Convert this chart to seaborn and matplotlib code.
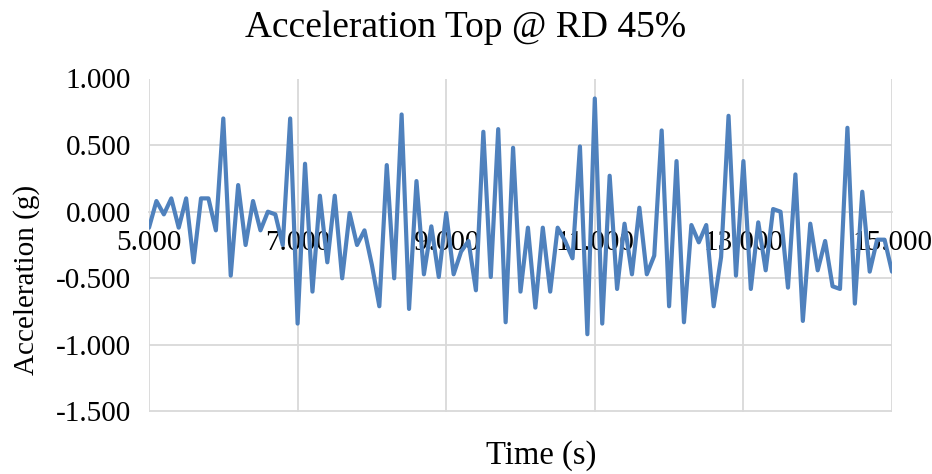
import numpy as np
import pandas as pd
import matplotlib
matplotlib.use("Agg")
import matplotlib.pyplot as plt
from matplotlib.ticker import FuncFormatter, FixedLocator
import seaborn as sns

# ---- data ----
t_start = 5.0
t_step = 0.1
accel = [
    -0.12, 0.08, -0.02, 0.10, -0.12, 0.10, -0.38, 0.10, 0.10, -0.14,
    0.70, -0.48, 0.20, -0.25, 0.08, -0.14, 0.00, -0.02, -0.25, 0.70,
    -0.84, 0.36, -0.60, 0.12, -0.38, 0.12, -0.50, -0.01, -0.25, -0.14,
    -0.40, -0.71, 0.35, -0.50, 0.73, -0.73, 0.23, -0.47, -0.11, -0.49,
    -0.01, -0.47, -0.30, -0.22, -0.59, 0.60, -0.49, 0.62, -0.83, 0.48,
    -0.60, -0.12, -0.72, -0.12, -0.60, -0.12, -0.22, -0.35, 0.49, -0.92,
    0.85, -0.84, 0.27, -0.58, -0.09, -0.47, 0.03, -0.47, -0.33, 0.61,
    -0.71, 0.38, -0.83, -0.10, -0.23, -0.10, -0.71, -0.34, 0.72, -0.48,
    0.38, -0.58, -0.08, -0.44, 0.02, 0.00, -0.57, 0.28, -0.82, -0.09,
    -0.44, -0.22, -0.56, -0.58, 0.63, -0.69, 0.15, -0.45, -0.21, -0.21,
    -0.45,
]
time = [round(t_start + t_step * i, 1) for i in range(len(accel))]
x_ticks = [5, 7, 9, 11, 13, 15]
y_ticks = [-1.5, -1.0, -0.5, 0.0, 0.5, 1.0]

title = "Acceleration Top @ RD 45%"
x_label = "Time (s)"
y_label = "Acceleration (g)"

df = pd.DataFrame({"time": time, "accel": accel})

# ---- style ----
sns.set_style("white")
plt.rcParams["font.family"] = ["Liberation Serif", "DejaVu Serif"]
plt.rcParams["axes.unicode_minus"] = False
plt.rcParams["text.color"] = "black"

fig = plt.figure(figsize=(9.32, 4.74), dpi=100)
ax = fig.add_axes([149 / 932, 1 - 411.5 / 474, (892 - 149) / 932, (411.5 - 78.5) / 474])

sns.lineplot(data=df, x="time", y="accel", ax=ax, color="#4F81BD",
             linewidth=3.0, zorder=3)

ax.set_xlim(5, 15)
ax.set_ylim(-1.5, 1.0)
ax.xaxis.set_major_locator(FixedLocator(x_ticks))
ax.yaxis.set_major_locator(FixedLocator(y_ticks))
fmt = FuncFormatter(lambda v, p: f"{v:.3f}")
ax.xaxis.set_major_formatter(fmt)
ax.yaxis.set_major_formatter(fmt)

ax.grid(True, color="#D9D9D9", linewidth=1.3, zorder=0)
ax.set_axisbelow(True)
for s in ["top", "right", "left"]:
    ax.spines[s].set_visible(False)
ax.spines["bottom"].set_position(("data", 0))
ax.spines["bottom"].set_color("#D9D9D9")
ax.spines["bottom"].set_linewidth(1.3)

ax.tick_params(axis="both", length=0, labelsize=21, colors="black")
ax.tick_params(axis="y", pad=13)
ax.tick_params(axis="x", pad=13)
for lbl in ax.get_xticklabels() + ax.get_yticklabels():
    lbl.set_clip_on(False)
ax.set_xlabel("")
ax.set_ylabel("")

fig.text(0.5, 1 - 28 / 474, title, ha="center", va="center", fontsize=27,
         color="black")
fig.text(541 / 932, 1 - 456 / 474, x_label, ha="center", va="center",
         fontsize=23.5, color="black")
fig.text(27 / 932, 1 - 280 / 474, y_label, ha="center", va="center",
         rotation=90, fontsize=21, color="black")

fig.savefig("out.png", dpi=100)
